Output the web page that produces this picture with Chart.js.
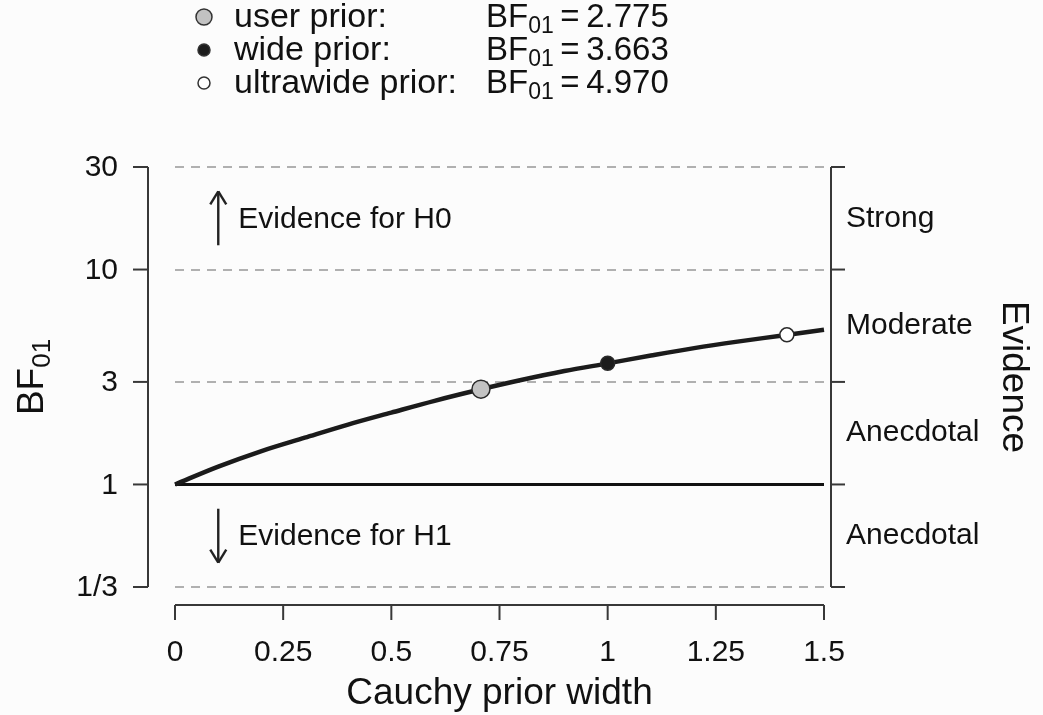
<!DOCTYPE html>
<html>
<head>
<meta charset="utf-8">
<script src="https://cdn.jsdelivr.net/npm/chart.js@4.4.1/dist/chart.umd.min.js"></script>
<style>
  html, body { margin: 0; padding: 0; background: #fcfcfc; }
  #wrap { width: 1043px; height: 715px; }
</style>
</head>
<body>
<div id="wrap"><canvas id="robust" width="1043" height="715"></canvas></div>
<script>
const FONT = '"Liberation Sans", Arial, Helvetica, sans-serif';

// curve (prior width -> BF01)
const priorWidths = [0, 0.1, 0.2, 0.3, 0.4, 0.5, 0.6, 0.7, 0.8, 0.9, 1.0, 1.1, 1.2, 1.3, 1.4, 1.5];
const bfCurve = [1.00, 1.21, 1.43, 1.65, 1.90, 2.16, 2.45, 2.75, 3.06, 3.37, 3.66, 3.98, 4.31, 4.62, 4.92, 5.25];

// the three named priors
const priorLabels = ['user prior:', 'wide prior:', 'ultrawide prior:'];
const priorX = [0.7071, 1, 1.4142];
const priorBF = [2.775, 3.663, 4.970];

const xTicks = [0, 0.25, 0.5, 0.75, 1, 1.25, 1.5];
const xTickLabels = ['0', '0.25', '0.5', '0.75', '1', '1.25', '1.5'];
const yTicks = [1/3, 1, 3, 10, 30];
const yTickLabels = ['1/3', '1', '3', '10', '30'];
const evidenceBands = ['Anecdotal', 'Anecdotal', 'Moderate', 'Strong'];
const arrowTexts = ['Evidence for H1', 'Evidence for H0'];

// marker looks (plot and legend)
const markerFill = ['#c2c2c2', '#1c1c1c', '#ffffff'];
const markerSize = [9, 7, 7];
const legendSize = [8, 6, 6];

function bfText(ctx, x, y, value, size, align) {
    // BF with subscript 01, like plotmath BF[01] == value
    const big = size + 'px ' + FONT, small = Math.round(size * 0.7) + 'px ' + FONT;
    const rest = value === null ? '' : '\u2009=\u2009' + value;
    ctx.font = big; const w1 = ctx.measureText('BF').width, w3 = ctx.measureText(rest).width;
    ctx.font = small; const w2 = ctx.measureText('01').width;
    let sx = align === 'center' ? x - (w1 + w2 + w3) / 2 : x;
    ctx.textAlign = 'left';
    ctx.font = big; ctx.fillText('BF', sx, y);
    ctx.font = small; ctx.fillText('01', sx + w1, y + size * 0.27);
    if (rest) { ctx.font = big; ctx.fillText(rest, sx + w1 + w2, y); }
}

const decor = {
    id: 'decor',
    afterDraw(chart) {
        const ctx = chart.ctx, a = chart.chartArea;
        const xs = chart.scales.x, ys = chart.scales.y;
        const seg = (x1, y1, x2, y2) => { ctx.beginPath(); ctx.moveTo(x1, y1); ctx.lineTo(x2, y2); ctx.stroke(); };
        ctx.save();
        ctx.strokeStyle = '#383838';
        ctx.fillStyle = '#111';
        ctx.lineWidth = 2;
        ctx.lineCap = 'butt';

        // left axis
        const lx = a.left - 27;
        seg(lx, ys.getPixelForValue(yTicks[yTicks.length - 1]), lx, ys.getPixelForValue(yTicks[0]));
        ctx.font = '30px ' + FONT; ctx.textAlign = 'right'; ctx.textBaseline = 'middle';
        yTicks.forEach((v, i) => {
            const py = ys.getPixelForValue(v);
            seg(lx - 15, py, lx, py);
            ctx.fillText(yTickLabels[i], lx - 30, py + 1);
        });

        // right axis with evidence bands
        const rx = a.right + 7;
        seg(rx, ys.getPixelForValue(yTicks[yTicks.length - 1]), rx, ys.getPixelForValue(yTicks[0]));
        ctx.textAlign = 'left';
        yTicks.forEach((v, i) => {
            const py = ys.getPixelForValue(v);
            seg(rx, py, rx + 14, py);
            if (i < evidenceBands.length) {
                const mid = (py + ys.getPixelForValue(yTicks[i + 1])) / 2;
                ctx.fillText(evidenceBands[i], rx + 15, mid);
            }
        });

        // bottom axis
        const by = a.bottom + 18;
        seg(xs.getPixelForValue(xTicks[0]), by, xs.getPixelForValue(xTicks[xTicks.length - 1]), by);
        ctx.textAlign = 'center'; ctx.textBaseline = 'alphabetic';
        xTicks.forEach((v, i) => {
            const px = xs.getPixelForValue(v);
            seg(px, by, px, by + 15);
            ctx.fillText(xTickLabels[i], px, 661);
        });

        // axis titles
        ctx.font = '37px ' + FONT;
        ctx.fillText('Cauchy prior width', (a.left + a.right) / 2, 704);
        ctx.save();
        ctx.translate(1013, (a.top + a.bottom) / 2);
        ctx.rotate(Math.PI / 2);
        ctx.textBaseline = 'middle';
        ctx.fillText('Evidence', 0, 0);
        ctx.restore();
        ctx.save();
        ctx.translate(33, (a.top + a.bottom) / 2);
        ctx.rotate(-Math.PI / 2);
        ctx.textBaseline = 'middle';
        bfText(ctx, 0, 0, null, 37, 'center');
        ctx.restore();

        // evidence arrows
        const ax = xs.getPixelForValue(0.1);
        const midH0 = (ys.getPixelForValue(10) + ys.getPixelForValue(30)) / 2;
        const midH1 = (ys.getPixelForValue(1/3) + ys.getPixelForValue(1)) / 2;
        [[midH1, 1], [midH0, -1]].forEach(([my, dir], i) => {
            const tip = my + dir * 27;
            ctx.strokeStyle = '#222'; ctx.lineWidth = 2.4;
            seg(ax, my - dir * 27, ax, tip);
            seg(ax, tip, ax - 8, tip - dir * 13);
            seg(ax, tip, ax + 8, tip - dir * 13);
            ctx.font = '30px ' + FONT; ctx.textAlign = 'left'; ctx.textBaseline = 'middle';
            ctx.fillText(arrowTexts[i], ax + 20, my + 1);
        });

        // legend at top
        const rows = [18, 51, 84];
        priorLabels.forEach((lab, i) => {
            ctx.beginPath();
            ctx.arc(204, rows[i] - 1, legendSize[i], 0, Math.PI * 2);
            ctx.fillStyle = markerFill[i]; ctx.fill();
            ctx.strokeStyle = '#333'; ctx.lineWidth = 1.5; ctx.stroke();
            ctx.fillStyle = '#111';
            ctx.font = '34px ' + FONT; ctx.textAlign = 'left'; ctx.textBaseline = 'middle';
            ctx.fillText(lab, 234, rows[i]);
            bfText(ctx, 486, rows[i], priorBF[i].toFixed(3), 33, 'left');
        });
        ctx.restore();
    }
};

new Chart(document.getElementById('robust'), {
    type: 'line',
    data: {
        datasets: [
            {
                label: 'priors',
                type: 'scatter',
                data: priorX.map((v, i) => ({ x: v, y: priorBF[i] })),
                pointRadius: markerSize,
                pointBackgroundColor: markerFill,
                pointBorderColor: '#2a2a2a',
                pointBorderWidth: 1.5,
                order: 0
            },
            {
                label: 'BF01',
                data: priorWidths.map((v, i) => ({ x: v, y: bfCurve[i] })),
                borderColor: '#1b1b1b',
                borderWidth: 4.5,
                pointRadius: 0,
                cubicInterpolationMode: 'monotone',
                clip: 6,
                order: 1
            },
            {
                label: 'reference',
                data: [{ x: 0, y: 1 }, { x: 1.5, y: 1 }],
                borderColor: '#111',
                borderWidth: 3,
                pointRadius: 0,
                clip: 6,
                order: 2
            }
        ]
    },
    options: {
        responsive: false,
        animation: false,
        layout: { padding: { left: 175, right: 219, top: 167, bottom: 128 } },
        plugins: { legend: { display: false }, tooltip: { enabled: false } },
        scales: {
            x: {
                type: 'linear', min: 0, max: 1.5,
                display: false
            },
            y: {
                type: 'logarithmic', min: 1/3, max: 30,
                bounds: 'data',
                afterBuildTicks: (s) => { s.ticks = yTicks.map(v => ({ value: v })); },
                ticks: { display: false },
                grid: {
                    drawTicks: false,
                    lineWidth: 2,
                    color: (c) => (c.tick && c.tick.value === 1) ? 'rgba(0,0,0,0)' : '#b0b0b0'
                },
                border: { display: false, dash: [9, 7] }
            }
        }
    },
    plugins: [decor]
});
</script>
</body>
</html>
